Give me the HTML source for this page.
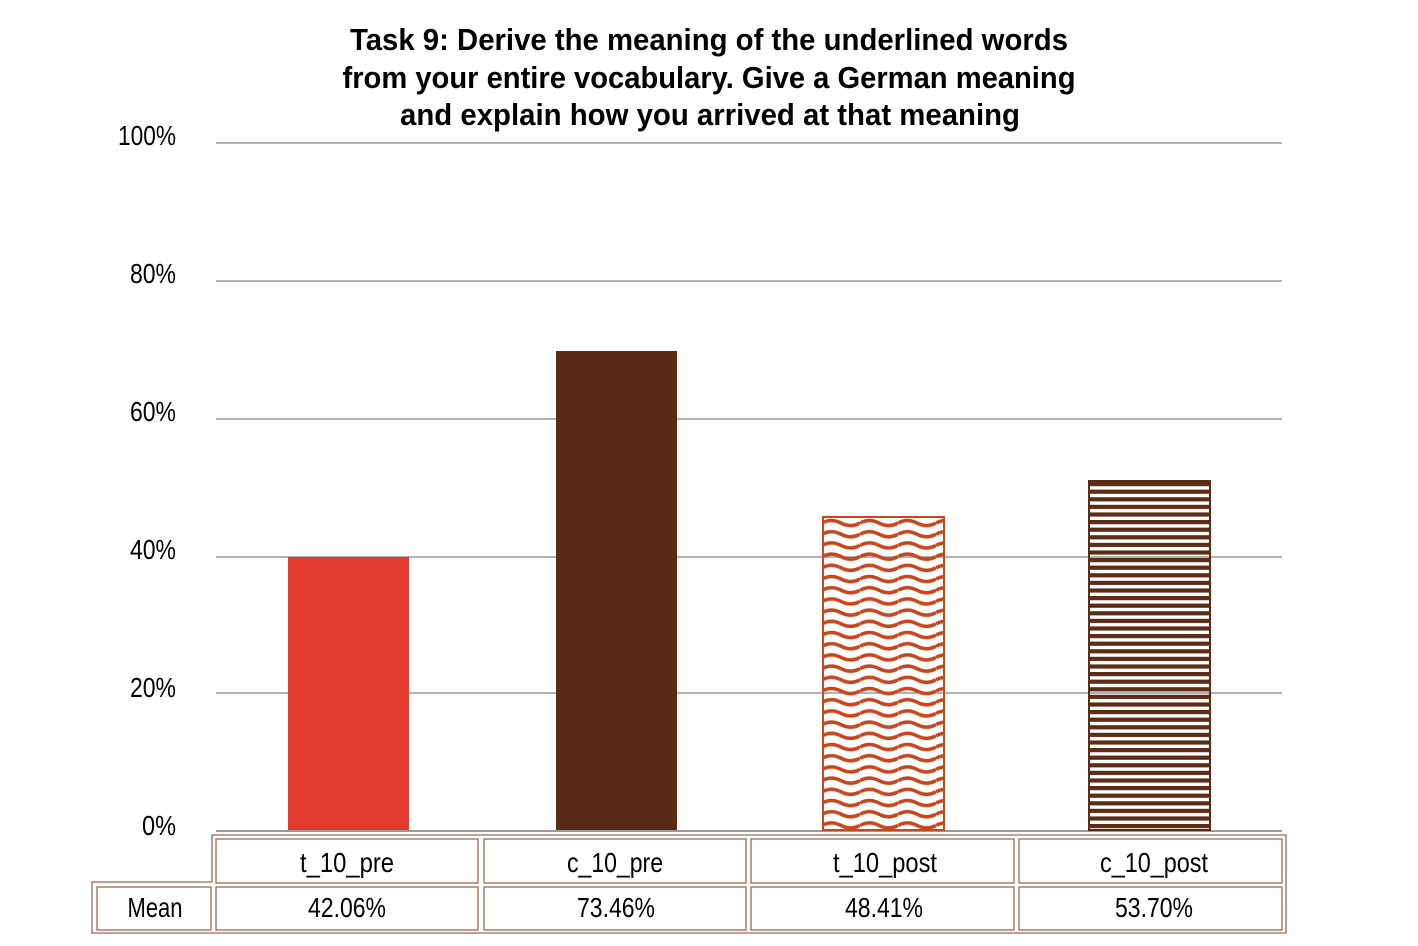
<!DOCTYPE html>
<html><head><meta charset="utf-8"><style>
body{margin:0;background:#fff;}
svg{display:block}
text{font-family:"Liberation Sans Narrow","Liberation Sans",sans-serif;fill:#000}
</style></head><body>
<svg width="1418" height="946" viewBox="0 0 1418 946" xmlns="http://www.w3.org/2000/svg">
<defs>
<pattern id="wave" width="38" height="11.2" patternUnits="userSpaceOnUse" x="822" y="518">
<path d="M0 5 Q 9.5 0 19 5 T 38 5" fill="none" stroke="#c9461c" stroke-width="3.6"/>
</pattern>
<pattern id="stripe" width="10" height="7.6" patternUnits="userSpaceOnUse" x="1088" y="482">
<rect width="10" height="4.2" fill="#5c2b15"/>
</pattern>
</defs>
<g font-size="31" font-weight="bold" text-anchor="middle" lengthAdjust="spacingAndGlyphs">
<text x="709" y="50" textLength="718" lengthAdjust="spacingAndGlyphs">Task 9: Derive the meaning of the underlined words</text>
<text x="709" y="88" textLength="733" lengthAdjust="spacingAndGlyphs">from your entire vocabulary. Give a German meaning</text>
<text x="710" y="125" textLength="620" lengthAdjust="spacingAndGlyphs">and explain how you arrived at that meaning</text>
</g>
<g stroke="#999" stroke-width="1.5">
<line x1="216" y1="143" x2="1282" y2="143"/>
<line x1="216" y1="281" x2="1282" y2="281"/>
<line x1="216" y1="419" x2="1282" y2="419"/>
<line x1="216" y1="557" x2="1282" y2="557"/>
<line x1="216" y1="693" x2="1282" y2="693"/>
<line x1="216" y1="831" x2="1282" y2="831" stroke-width="2"/>
</g>
<g font-size="28" text-anchor="end">
<text x="176" y="145" textLength="58" lengthAdjust="spacingAndGlyphs">100%</text>
<text x="176" y="283" textLength="46" lengthAdjust="spacingAndGlyphs">80%</text>
<text x="176" y="421" textLength="46" lengthAdjust="spacingAndGlyphs">60%</text>
<text x="176" y="559" textLength="46" lengthAdjust="spacingAndGlyphs">40%</text>
<text x="176" y="697" textLength="46" lengthAdjust="spacingAndGlyphs">20%</text>
<text x="176" y="835" textLength="34" lengthAdjust="spacingAndGlyphs">0%</text>
</g>
<rect x="288" y="557" width="121" height="273" fill="#e33b2e"/>
<rect x="556" y="351" width="121" height="479" fill="#5c2b15"/>
<rect x="823" y="517" width="121" height="313" fill="url(#wave)" stroke="#c9461c" stroke-width="2"/>
<rect x="1089" y="481" width="121" height="349" fill="url(#stripe)" stroke="#5c2b15" stroke-width="2"/>
<g fill="none" stroke="#9a6a55" stroke-width="1.3">
<path d="M212 835 H1286 V933 H92 V882 H212 Z"/>
<rect x="216" y="839" width="262" height="44"/>
<rect x="484" y="839" width="262" height="44"/>
<rect x="751" y="839" width="263" height="44"/>
<rect x="1019" y="839" width="263" height="44"/>
<rect x="97" y="887" width="114" height="43"/>
<rect x="216" y="887" width="262" height="43"/>
<rect x="484" y="887" width="262" height="43"/>
<rect x="751" y="887" width="263" height="43"/>
<rect x="1019" y="887" width="263" height="43"/>
</g>
<g font-size="28" text-anchor="middle">
<text x="347" y="872" textLength="94" lengthAdjust="spacingAndGlyphs">t_10_pre</text>
<text x="615" y="872" textLength="96" lengthAdjust="spacingAndGlyphs">c_10_pre</text>
<text x="885" y="872" textLength="104" lengthAdjust="spacingAndGlyphs">t_10_post</text>
<text x="1154" y="872" textLength="108" lengthAdjust="spacingAndGlyphs">c_10_post</text>
<text x="155" y="917" textLength="55" lengthAdjust="spacingAndGlyphs">Mean</text>
<text x="347" y="917" textLength="78" lengthAdjust="spacingAndGlyphs">42.06%</text>
<text x="616" y="917" textLength="78" lengthAdjust="spacingAndGlyphs">73.46%</text>
<text x="884" y="917" textLength="78" lengthAdjust="spacingAndGlyphs">48.41%</text>
<text x="1154" y="917" textLength="78" lengthAdjust="spacingAndGlyphs">53.70%</text>
</g>
</svg>
</body></html>
